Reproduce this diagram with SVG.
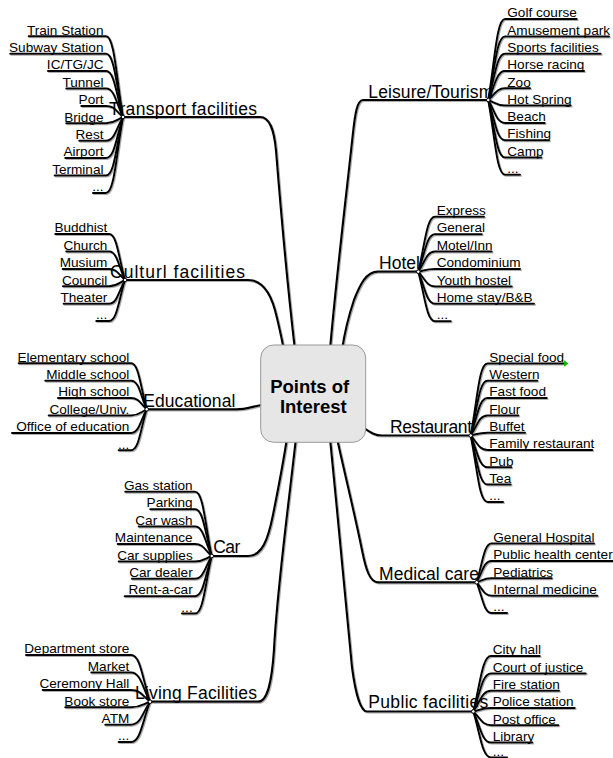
<svg xmlns="http://www.w3.org/2000/svg" width="613" height="758" viewBox="0 0 613 758">
<style>
.c{fill:none;stroke:#000;stroke-width:2;stroke-linecap:round;stroke-linejoin:round}
.m{fill:none;stroke:#000;stroke-width:2.2;stroke-linecap:round}
.b{font-family:"Liberation Sans",Arial,sans-serif;font-size:17.5px;fill:#000}
.l{font-family:"Liberation Sans",Arial,sans-serif;font-size:13.6px;fill:#000}
.r{text-anchor:end}
.j{fill:#fff;stroke:#000;stroke-width:1}
.ctr{font-family:"Liberation Sans",Arial,sans-serif;font-size:18.5px;font-weight:bold;fill:#000;text-anchor:middle}
</style>
<defs>
<filter id="sh" x="-5%" y="-5%" width="110%" height="110%">
<feDropShadow dx="1" dy="1" stdDeviation="0.4" flood-color="#777" flood-opacity="0.6"/>
</filter>
</defs>
<rect width="613" height="758" fill="#fff"/>
<g id="connectors" filter="url(#sh)">
<!-- main branches -->
<path class="m" d="M123,117 L260,117 C270,117 274,130 276,150 C280,200 288,290 295,350"/>
<path class="m" d="M488.3,100 L363,100 C357,100 355,115 353,133 C348,180 336,280 330,350"/>
<path class="m" d="M418.3,271.7 L378,271.7 C366,271.7 360,285 354,300 C349,315 345,330 342,350"/>
<path class="m" d="M125,280 L248,280 C262,280 270,292 275,310 C279,325 281,335 284,350"/>
<path class="m" d="M146.7,409.3 L236.7,409.3 C248,409.3 252,406 268,404"/>
<path class="m" d="M470.7,435.5 L382,435.5 C374,435.5 370,432 358,424"/>
<path class="m" d="M211.7,556 L248,556 C262,556 268,540 273,515 C278,490 283,465 287,438"/>
<path class="m" d="M476.7,582.3 L378,582.3 C370,582.3 366,570 362,550 C355,515 345,475 337,438"/>
<path class="m" d="M150,701.7 L258,701.7 C268,701.7 272,680 274,650 C277,590 288,510 296,438"/>
<path class="m" d="M473.3,711.5 L367,711.5 C360,711.5 355,690 352,667 C348,620 338,520 330,438"/>
<!-- transport leaves -->
<path class="c" d="M123,117 C116.2,76.7 114.5,36.3 106,36.3 L28.7,36.3"/>
<path class="c" d="M123,117 C116.2,85.4 114.5,53.7 106,53.7 L10.3,53.7"/>
<path class="c" d="M123,117 C116.2,94.1 114.5,71.1 106,71.1 L48,71.1"/>
<path class="c" d="M123,117 C116.2,102.8 114.5,88.5 106,88.5 L66.3,88.5"/>
<path class="c" d="M123,117 C116.2,111.5 114.5,105.9 106,105.9 L81.3,105.9"/>
<path class="c" d="M123,117 C116.2,120.2 114.5,123.3 106,123.3 L66.3,123.3"/>
<path class="c" d="M123,117 C116.2,128.9 114.5,140.7 106,140.7 L79.3,140.7"/>
<path class="c" d="M123,117 C116.2,137.6 114.5,158.1 106,158.1 L65.3,158.1"/>
<path class="c" d="M123,117 C116.2,146.3 114.5,175.5 106,175.5 L54.7,175.5"/>
<path class="c" d="M123,117 C116.2,155 114.5,192.9 106,192.9 L93,192.9"/>
<!-- leisure leaves -->
<path class="c" d="M488.3,100 C495,59.6 496.7,19.1 505,19.1 L576.7,19.1"/>
<path class="c" d="M488.3,100 C495,68.2 496.7,36.4 505,36.4 L609,36.4"/>
<path class="c" d="M488.3,100 C495,76.9 496.7,53.7 505,53.7 L600.7,53.7"/>
<path class="c" d="M488.3,100 C495,85.5 496.7,71 505,71 L584,71"/>
<path class="c" d="M488.3,100 C495,94.2 496.7,88.3 505,88.3 L530,88.3"/>
<path class="c" d="M488.3,100 C495,102.8 496.7,105.6 505,105.6 L570.7,105.6"/>
<path class="c" d="M488.3,100 C495,111.5 496.7,122.9 505,122.9 L544.7,122.9"/>
<path class="c" d="M488.3,100 C495,120.1 496.7,140.2 505,140.2 L549,140.2"/>
<path class="c" d="M488.3,100 C495,128.8 496.7,157.5 505,157.5 L541.3,157.5"/>
<path class="c" d="M488.3,100 C495,137.4 496.7,174.8 505,174.8 L520,174.8"/>
<!-- hotel leaves -->
<path class="c" d="M418.3,271.7 C425,244.3 426.7,216.8 435,216.8 L484,216.8"/>
<path class="c" d="M418.3,271.7 C425,253 426.7,234.2 435,234.2 L481.7,234.2"/>
<path class="c" d="M418.3,271.7 C425,261.7 426.7,251.6 435,251.6 L491.7,251.6"/>
<path class="c" d="M418.3,271.7 C425,270.4 426.7,269 435,269 L520,269"/>
<path class="c" d="M418.3,271.7 C425,279.1 426.7,286.4 435,286.4 L511.7,286.4"/>
<path class="c" d="M418.3,271.7 C425,287.8 426.7,303.8 435,303.8 L534,303.8"/>
<path class="c" d="M418.3,271.7 C425,296.5 426.7,321.2 435,321.2 L450.7,321.2"/>
<!-- culturl leaves -->
<path class="c" d="M125,280 C118.6,257.1 117,234.1 109,234.1 L55.3,234.1"/>
<path class="c" d="M125,280 C118.6,265.8 117,251.5 109,251.5 L66.3,251.5"/>
<path class="c" d="M125,280 C118.6,274.5 117,268.9 109,268.9 L62.7,268.9"/>
<path class="c" d="M125,280 C118.6,283.2 117,286.3 109,286.3 L63,286.3"/>
<path class="c" d="M125,280 C118.6,291.9 117,303.7 109,303.7 L63.7,303.7"/>
<path class="c" d="M125,280 C118.6,300.6 117,321.1 109,321.1 L96.3,321.1"/>
<!-- educational leaves -->
<path class="c" d="M146.7,409.3 C140.4,386.3 138.9,363.3 131,363.3 L18.7,363.3"/>
<path class="c" d="M146.7,409.3 C140.4,395 138.9,380.7 131,380.7 L45.3,380.7"/>
<path class="c" d="M146.7,409.3 C140.4,403.7 138.9,398.1 131,398.1 L58,398.1"/>
<path class="c" d="M146.7,409.3 C140.4,412.4 138.9,415.5 131,415.5 L48.7,415.5"/>
<path class="c" d="M146.7,409.3 C140.4,421.1 138.9,432.9 131,432.9 L12,432.9"/>
<path class="c" d="M146.7,409.3 C140.4,429.8 138.9,450.3 131,450.3 L118.7,450.3"/>
<!-- restaurant leaves -->
<path class="c" d="M470.7,435.5 C477.4,399.5 479.1,363.5 487.5,363.5 L565,363.5"/>
<path class="c" d="M470.7,435.5 C477.4,408.2 479.1,380.8 487.5,380.8 L537.3,380.8"/>
<path class="c" d="M470.7,435.5 C477.4,416.8 479.1,398.1 487.5,398.1 L546.7,398.1"/>
<path class="c" d="M470.7,435.5 C477.4,425.5 479.1,415.4 487.5,415.4 L518.3,415.4"/>
<path class="c" d="M470.7,435.5 C477.4,434.1 479.1,432.7 487.5,432.7 L525,432.7"/>
<path class="c" d="M470.7,435.5 C477.4,442.8 479.1,450 487.5,450 L592.3,450"/>
<path class="c" d="M470.7,435.5 C477.4,451.4 479.1,467.3 487.5,467.3 L511.3,467.3"/>
<path class="c" d="M470.7,435.5 C477.4,460.1 479.1,484.6 487.5,484.6 L510.7,484.6"/>
<path class="c" d="M470.7,435.5 C477.4,468.7 479.1,501.9 487.5,501.9 L503,501.9"/>
<!-- car leaves -->
<path class="c" d="M211.7,556 C205,523.9 203.4,491.8 195,491.8 L125.3,491.8"/>
<path class="c" d="M211.7,556 C205,532.6 203.4,509.2 195,509.2 L150.3,509.2"/>
<path class="c" d="M211.7,556 C205,541.3 203.4,526.6 195,526.6 L138.7,526.6"/>
<path class="c" d="M211.7,556 C205,550 203.4,544 195,544 L117.7,544"/>
<path class="c" d="M211.7,556 C205,558.7 203.4,561.4 195,561.4 L118.7,561.4"/>
<path class="c" d="M211.7,556 C205,567.4 203.4,578.8 195,578.8 L132,578.8"/>
<path class="c" d="M211.7,556 C205,576.1 203.4,596.2 195,596.2 L124.7,596.2"/>
<path class="c" d="M211.7,556 C205,584.8 203.4,613.6 195,613.6 L182,613.6"/>
<!-- medical leaves -->
<path class="c" d="M476.7,582.3 C482.6,562.9 484.1,543.5 491.5,543.5 L594,543.5"/>
<path class="c" d="M476.7,582.3 C482.6,571.6 484.1,560.9 491.5,560.9 L613,560.9"/>
<path class="c" d="M476.7,582.3 C482.6,580.3 484.1,578.3 491.5,578.3 L551.7,578.3"/>
<path class="c" d="M476.7,582.3 C482.6,589 484.1,595.7 491.5,595.7 L597.3,595.7"/>
<path class="c" d="M476.7,582.3 C482.6,597.7 484.1,613.1 491.5,613.1 L507,613.1"/>
<!-- living leaves -->
<path class="c" d="M150,701.7 C142.4,678.4 140.5,655.1 131,655.1 L26,655.1"/>
<path class="c" d="M150,701.7 C142.4,687.1 140.5,672.5 131,672.5 L91.3,672.5"/>
<path class="c" d="M150,701.7 C142.4,695.8 140.5,689.9 131,689.9 L42.7,689.9"/>
<path class="c" d="M150,701.7 C142.4,704.5 140.5,707.3 131,707.3 L65.3,707.3"/>
<path class="c" d="M150,701.7 C142.4,713.2 140.5,724.7 131,724.7 L105.3,724.7"/>
<path class="c" d="M150,701.7 C142.4,721.9 140.5,742.1 131,742.1 L118.7,742.1"/>
<!-- public leaves -->
<path class="c" d="M473.3,711.5 C480.4,683.8 482.2,656.1 491,656.1 L539.7,656.1"/>
<path class="c" d="M473.3,711.5 C480.4,692.5 482.2,673.4 491,673.4 L585.7,673.4"/>
<path class="c" d="M473.3,711.5 C480.4,701.1 482.2,690.7 491,690.7 L559,690.7"/>
<path class="c" d="M473.3,711.5 C480.4,709.8 482.2,708 491,708 L574.7,708"/>
<path class="c" d="M473.3,711.5 C480.4,718.4 482.2,725.3 491,725.3 L558.3,725.3"/>
<path class="c" d="M473.3,711.5 C480.4,727.1 482.2,742.6 491,742.6 L532.3,742.6"/>
<path class="c" d="M473.3,711.5 C480.4,734.5 482.2,757.5 491,757.5 L507,757.5"/>
</g>
<g id="junctions">
<circle class="j" cx="123" cy="117" r="1.8"/>
<circle class="j" cx="488.3" cy="100" r="1.8"/>
<circle class="j" cx="418.3" cy="271.7" r="1.8"/>
<circle class="j" cx="125" cy="280" r="1.8"/>
<circle class="j" cx="146.7" cy="409.3" r="1.8"/>
<circle class="j" cx="470.7" cy="435.5" r="1.8"/>
<circle class="j" cx="211.7" cy="556" r="1.8"/>
<circle class="j" cx="476.7" cy="582.3" r="1.8"/>
<circle class="j" cx="150" cy="701.7" r="1.8"/>
<circle class="j" cx="473.3" cy="711.5" r="1.8"/>
</g>
<polygon points="564,360.3 568.5,363.5 564,366.7" fill="#00c000"/>
<g id="center">
<rect x="260.7" y="345" width="105" height="97.3" rx="13" fill="#e6e6e6" stroke="#999" stroke-width="1"/>
<text class="ctr" x="309.7" y="393">Points of</text>
<text class="ctr" x="313.3" y="412.7">Interest</text>
</g>
<g id="transport"><text class="b" x="109" y="115" textLength="148" lengthAdjust="spacing">Transport facilities</text></g>
<g id="leisure"><text class="b" x="368.3" y="98.3" textLength="125" lengthAdjust="spacing">Leisure/Tourism</text></g>
<g id="hotel"><text class="b" x="379" y="269.3" textLength="41" lengthAdjust="spacing">Hotel</text></g>
<g id="culturl"><text class="b" x="110" y="277.7" textLength="135" lengthAdjust="spacing">Culturl facilities</text></g>
<g id="educational"><text class="b" x="143.3" y="406.7" textLength="92" lengthAdjust="spacing">Educational</text></g>
<g id="restaurant"><text class="b" x="390" y="432.7" textLength="82" lengthAdjust="spacing">Restaurant</text></g>
<g id="car"><text class="b" x="213.3" y="553.3" textLength="27" lengthAdjust="spacing">Car</text></g>
<g id="medical"><text class="b" x="379" y="580" textLength="100" lengthAdjust="spacing">Medical care</text></g>
<g id="living"><text class="b" x="135" y="699.3" textLength="122" lengthAdjust="spacing">Living Facilities</text></g>
<g id="public"><text class="b" x="368.3" y="708.3" textLength="120" lengthAdjust="spacing">Public facilities</text></g>
<g id="transport-leaves">
<g id="t1"><text class="l r" x="103.5" y="34.5">Train Station</text></g>
<g id="t2"><text class="l r" x="103.5" y="51.9">Subway Station</text></g>
<g id="t3"><text class="l r" x="103.5" y="69.3">IC/TG/JC</text></g>
<g id="t4"><text class="l r" x="103.5" y="86.7">Tunnel</text></g>
<g id="t5"><text class="l r" x="103.5" y="104.1">Port</text></g>
<g id="t6"><text class="l r" x="103.5" y="121.5">Bridge</text></g>
<g id="t7"><text class="l r" x="103.5" y="138.9">Rest</text></g>
<g id="t8"><text class="l r" x="103.5" y="156.3">Airport</text></g>
<g id="t9"><text class="l r" x="103.5" y="173.7">Terminal</text></g>
<g id="t10"><text class="l r" x="103.5" y="191.1">...</text></g>
</g>
<g id="leisure-leaves">
<g id="le1"><text class="l" x="507.3" y="17.3">Golf course</text></g>
<g id="le2"><text class="l" x="507.3" y="34.6">Amusement park</text></g>
<g id="le3"><text class="l" x="507.3" y="51.9">Sports facilities</text></g>
<g id="le4"><text class="l" x="507.3" y="69.2">Horse racing</text></g>
<g id="le5"><text class="l" x="507.3" y="86.5">Zoo</text></g>
<g id="le6"><text class="l" x="507.3" y="103.8">Hot Spring</text></g>
<g id="le7"><text class="l" x="507.3" y="121.1">Beach</text></g>
<g id="le8"><text class="l" x="507.3" y="138.4">Fishing</text></g>
<g id="le9"><text class="l" x="507.3" y="155.7">Camp</text></g>
<g id="le10"><text class="l" x="507.3" y="173">...</text></g>
</g>
<g id="hotel-leaves">
<g id="h1"><text class="l" x="436.7" y="215">Express</text></g>
<g id="h2"><text class="l" x="436.7" y="232.4">General</text></g>
<g id="h3"><text class="l" x="436.7" y="249.8">Motel/Inn</text></g>
<g id="h4"><text class="l" x="436.7" y="267.2">Condominium</text></g>
<g id="h5"><text class="l" x="436.7" y="284.6">Youth hostel</text></g>
<g id="h6"><text class="l" x="436.7" y="302">Home stay/B&amp;B</text></g>
<g id="h7"><text class="l" x="436.7" y="319.4">...</text></g>
</g>
<g id="culturl-leaves">
<g id="cu1"><text class="l r" x="107.3" y="232.3">Buddhist</text></g>
<g id="cu2"><text class="l r" x="107.3" y="249.7">Church</text></g>
<g id="cu3"><text class="l r" x="107.3" y="267.1">Musium</text></g>
<g id="cu4"><text class="l r" x="107.3" y="284.5">Council</text></g>
<g id="cu5"><text class="l r" x="107.3" y="301.9">Theater</text></g>
<g id="cu6"><text class="l r" x="107.3" y="319.3">...</text></g>
</g>
<g id="educational-leaves">
<g id="e1"><text class="l r" x="129.3" y="361.5">Elementary school</text></g>
<g id="e2"><text class="l r" x="129.3" y="378.9">Middle school</text></g>
<g id="e3"><text class="l r" x="129.3" y="396.3">High school</text></g>
<g id="e4"><text class="l r" x="129.3" y="413.7">College/Univ.</text></g>
<g id="e5"><text class="l r" x="129.3" y="431.1">Office of education</text></g>
<g id="e6"><text class="l r" x="129.3" y="448.5">...</text></g>
</g>
<g id="restaurant-leaves">
<g id="r1"><text class="l" x="489.3" y="361.7">Special food</text></g>
<g id="r2"><text class="l" x="489.3" y="379">Western</text></g>
<g id="r3"><text class="l" x="489.3" y="396.3">Fast food</text></g>
<g id="r4"><text class="l" x="489.3" y="413.6">Flour</text></g>
<g id="r5"><text class="l" x="489.3" y="430.9">Buffet</text></g>
<g id="r6"><text class="l" x="489.3" y="448.2">Family restaurant</text></g>
<g id="r7"><text class="l" x="489.3" y="465.5">Pub</text></g>
<g id="r8"><text class="l" x="489.3" y="482.8">Tea</text></g>
<g id="r9"><text class="l" x="489.3" y="500.1">...</text></g>
</g>
<g id="car-leaves">
<g id="ca1"><text class="l r" x="192.7" y="490">Gas station</text></g>
<g id="ca2"><text class="l r" x="192.7" y="507.4">Parking</text></g>
<g id="ca3"><text class="l r" x="192.7" y="524.8">Car wash</text></g>
<g id="ca4"><text class="l r" x="192.7" y="542.2">Maintenance</text></g>
<g id="ca5"><text class="l r" x="192.7" y="559.6">Car supplies</text></g>
<g id="ca6"><text class="l r" x="192.7" y="577">Car dealer</text></g>
<g id="ca7"><text class="l r" x="192.7" y="594.4">Rent-a-car</text></g>
<g id="ca8"><text class="l r" x="192.7" y="611.8">...</text></g>
</g>
<g id="medical-leaves">
<g id="me1"><text class="l" x="493.3" y="541.7">General Hospital</text></g>
<g id="me2"><text class="l" x="493.3" y="559.1">Public health center</text></g>
<g id="me3"><text class="l" x="493.3" y="576.5">Pediatrics</text></g>
<g id="me4"><text class="l" x="493.3" y="593.9">Internal medicine</text></g>
<g id="me5"><text class="l" x="493.3" y="611.3">...</text></g>
</g>
<g id="living-leaves">
<g id="li1"><text class="l r" x="129.3" y="653.3">Department store</text></g>
<g id="li2"><text class="l r" x="129.3" y="670.7">Market</text></g>
<g id="li3"><text class="l r" x="129.3" y="688.1">Ceremony Hall</text></g>
<g id="li4"><text class="l r" x="129.3" y="705.5">Book store</text></g>
<g id="li5"><text class="l r" x="129.3" y="722.9">ATM</text></g>
<g id="li6"><text class="l r" x="129.3" y="740.3">...</text></g>
</g>
<g id="public-leaves">
<g id="p1"><text class="l" x="492.7" y="654.3">City hall</text></g>
<g id="p2"><text class="l" x="492.7" y="671.6">Court of justice</text></g>
<g id="p3"><text class="l" x="492.7" y="688.9">Fire station</text></g>
<g id="p4"><text class="l" x="492.7" y="706.2">Police station</text></g>
<g id="p5"><text class="l" x="492.7" y="723.5">Post office</text></g>
<g id="p6"><text class="l" x="492.7" y="740.8">Library</text></g>
<g id="p7"><text class="l" x="492.7" y="755.8">...</text></g>
</g>
</svg>
